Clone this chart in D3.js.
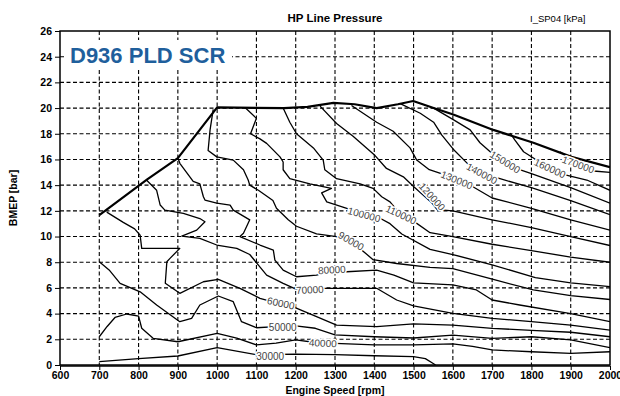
<!DOCTYPE html>
<html lang="en">
<head>
<meta charset="utf-8">
<script src="https://cdn.jsdelivr.net/npm/d3@7"></script>
<style>
  body { margin: 0; background: #fff; }
  svg text { font-family: "Liberation Sans", Arial, sans-serif; }
</style>
</head>
<body>
<div id="chart"></div>
<script>
// tick values
const rpmTicks = [600, 700, 800, 900, 1000, 1100, 1200, 1300, 1400, 1500, 1600, 1700, 1800, 1900, 2000]
const bmepTicks = [0, 2, 4, 6, 8, 10, 12, 14, 16, 18, 20, 22, 24, 26]

// full load line  [rpm, bmep]
const envelope = [[700,11.67],[822,14.45],[900,16.1],[1000,20.05],[1170,20.0],[1230,20.1],[1296,20.4],[1350,20.3],[1406,20.0],[1460,20.3],[1499,20.55],[1551,20.0],[1601,19.5],[1703,18.3],[1805,17.3],[1902,16.2],[2000,15.4]]

// contour lines of HP line pressure [kPa], points as [rpm, bmep]
const c30000 = [[700,0.26],[800,0.5],[900,0.7],[1000,1.35],[1100,0.8],[1200,0.85],[1300,0.8],[1400,0.72],[1500,0.65],[1530,0.5],[1548,0.15],[1556,0]]
const c40000 = [[700,2.2],[720,3.0],[740,3.7],[770,3.97],[800,3.8],[808,2.86],[837,2.08],[900,1.81],[1000,2.47],[1050,2.1],[1100,1.56],[1150,1.7],[1200,1.95],[1250,1.75],[1300,1.69],[1400,1.56],[1500,1.56],[1600,1.65],[1650,1.45],[1700,1.17],[1800,1.03],[1900,0.9],[2000,1.03]]
const c50000 = [[700,8.04],[725,7.4],[753,6.36],[804,5.7],[846,4.67],[905,3.37],[935,3.63],[956,4.67],[1003,5.37],[1041,4.93],[1062,3.37],[1100,2.9],[1150,2.98],[1200,3.05],[1250,2.86],[1300,2.35],[1400,2.2],[1500,2.1],[1600,2.33],[1700,2.07],[1800,2.2],[1900,1.95],[2000,1.35]]
const c60000 = [[719,11.9],[761,11.1],[790,10.6],[804,10.1],[808,9.08],[905,9.08],[880,8.3],[872,8.04],[868,6.36],[905,5.58],[965,6.48],[1003,6.67],[1058,5.97],[1109,5.19],[1160,4.75],[1200,4.45],[1253,3.76],[1304,3.11],[1406,2.98],[1500,3.2],[1600,3.11],[1700,2.85],[1800,2.7],[1900,2.55],[2000,2.2]]
const c70000 = [[820,14.4],[846,13.6],[855,12.45],[867,12.06],[914,11.8],[956,11.4],[969,11.15],[948,10.5],[910,10.04],[956,9.86],[999,9.34],[1050,9.08],[1083,8.6],[1126,7.0],[1168,6.36],[1202,5.89],[1235,5.85],[1270,5.97],[1406,5.97],[1457,5.06],[1500,4.6],[1600,4.02],[1700,3.63],[1800,3.37],[1900,3.1],[2000,2.72]]
const c80000 = [[901,16.05],[905,15.7],[939,14.3],[956,14.1],[965,13.1],[969,12.84],[999,12.6],[1033,12.45],[1041,12.06],[1083,11.3],[1067,10.25],[1058,10.0],[1109,9.34],[1143,8.95],[1147,8.17],[1168,7.39],[1202,6.87],[1253,7.0],[1290,7.3],[1330,7.26],[1406,7.39],[1450,7.0],[1500,6.4],[1600,6.23],[1660,5.84],[1700,5.06],[1770,4.67],[1900,4.0],[2000,3.37]]
const c90000 = [[990,19.9],[982,18.3],[977,16.7],[999,16.2],[1041,15.95],[1067,15.2],[1079,14.4],[1083,14.0],[1105,13.6],[1142,12.8],[1151,12.2],[1181,11.3],[1202,10.8],[1253,10.2],[1304,10.0],[1341,9.6],[1370,8.9],[1397,8.2],[1457,7.9],[1542,7.6],[1600,7.5],[1710,6.6],[1805,5.84],[1900,5.4],[2000,5.1]]
const c100000 = [[1071,20.05],[1100,19.2],[1085,18.0],[1109,17.6],[1126,17.25],[1160,16.2],[1168,15.8],[1168,15.2],[1185,14.5],[1236,14.1],[1291,13.75],[1266,13.4],[1279,12.7],[1330,12.2],[1371,11.8],[1410,11.5],[1440,11.0],[1470,10.2],[1542,9.0],[1600,8.6],[1700,7.8],[1810,6.8],[1900,6.4],[2000,6.1]]
const c110000 = [[1168,20.0],[1185,18.9],[1202,18.0],[1245,16.9],[1270,15.95],[1274,15.2],[1304,14.5],[1364,14.1],[1397,13.75],[1419,13.1],[1440,12.7],[1468,11.7],[1500,11.2],[1542,10.3],[1600,10.0],[1700,9.4],[1800,8.9],[1900,8.4],[2000,8.0]]
const c120000 = [[1262,20.15],[1304,18.8],[1346,17.8],[1402,16.3],[1431,15.3],[1474,14.65],[1500,13.9],[1547,12.6],[1560,12.1],[1600,12.0],[1700,11.3],[1800,10.7],[1900,10.0],[2000,9.3]]
const c130000 = [[1342,20.2],[1406,18.9],[1448,18.2],[1491,16.9],[1508,15.95],[1540,15.2],[1580,14.8],[1610,14.4],[1650,13.9],[1700,13.0],[1800,12.2],[1900,11.3],[2000,10.5]]
const c140000 = [[1466,20.35],[1517,19.6],[1551,18.9],[1572,17.9],[1601,16.8],[1640,15.6],[1674,14.9],[1720,14.5],[1800,13.8],[1900,12.8],[2000,11.7]]
const c150000 = [[1551,20.0],[1601,19.1],[1644,18.3],[1669,17.3],[1695,16.6],[1733,15.8],[1770,15.2],[1800,14.9],[1900,13.8],[2000,12.6]]
const c160000 = [[1746,18.05],[1758,17.5],[1780,16.6],[1847,15.3],[1886,14.8],[1941,14.4],[2000,13.6]]
const c170000 = [[1873,16.6],[1919,15.6],[1958,15.1],[2000,15.0]]

const contours = [c30000, c40000, c50000, c60000, c70000, c80000, c90000, c100000, c110000, c120000, c130000, c140000, c150000, c160000, c170000]

// contour labels: [text, rpm, bmep, angle]
const labels = [
  ['30000', 1135, 0.7, 0], ['40000', 1269, 1.7, 3], ['50000', 1167, 2.95, 0],
  ['60000', 1162, 4.8, 12], ['70000', 1236, 5.85, -3], ['80000', 1292, 7.4, -3],
  ['90000', 1341, 9.65, 30], ['100000', 1374, 11.7, 15], ['110000', 1468, 11.7, 25],
  ['120000', 1547, 13.1, 48], ['130000', 1610, 14.4, 22], ['140000', 1674, 14.9, 28],
  ['150000', 1733, 15.8, 32], ['160000', 1847, 15.3, 25], ['170000', 1919, 15.6, 20]
]

let w = 620, h = 396
let padding = { left: 60, right: 10, top: 31, bottom: 31 }

let xScale = d3.scaleLinear().domain([600, 2000]).range([padding.left, w - padding.right])
let yScale = d3.scaleLinear().domain([0, 26]).range([h - padding.bottom, padding.top])

let svg = d3.select('#chart').append('svg')
    .attr('width', w)
    .attr('height', h)

// dashed grid
svg.append('g')
    .selectAll('line')
    .data(rpmTicks.slice(1, -1))
    .join('line')
    .attr('x1', d => xScale(d)).attr('x2', d => xScale(d))
    .attr('y1', yScale(26)).attr('y2', yScale(0))
    .attr('stroke', '#000').attr('stroke-width', 1.1)
    .attr('stroke-dasharray', '4,2.5')
svg.append('g')
    .selectAll('line')
    .data(bmepTicks.slice(1, -1))
    .join('line')
    .attr('x1', xScale(600)).attr('x2', xScale(2000))
    .attr('y1', d => yScale(d)).attr('y2', d => yScale(d))
    .attr('stroke', '#000').attr('stroke-width', 1.1)
    .attr('stroke-dasharray', '4,2.5')

svg.append('clipPath').attr('id', 'plot-area')
    .append('rect')
    .attr('x', xScale(600)).attr('y', yScale(26))
    .attr('width', xScale(2000) - xScale(600))
    .attr('height', yScale(0) - yScale(26))

let line = d3.line()
    .x(d => xScale(d[0]))
    .y(d => yScale(d[1]))

let plot = svg.append('g').attr('clip-path', 'url(#plot-area)')
plot.selectAll('path.contour')
    .data(contours)
    .join('path')
    .attr('class', 'contour')
    .attr('d', line)
    .attr('fill', 'none')
    .attr('stroke', '#000')
    .attr('stroke-width', 1.3)
    .attr('stroke-linejoin', 'round')

plot.append('path')
    .datum(envelope)
    .attr('d', line)
    .attr('fill', 'none')
    .attr('stroke', '#000')
    .attr('stroke-width', 2.2)
    .attr('stroke-linejoin', 'round')

// contour labels with white halo to break the lines
svg.append('g')
    .selectAll('text')
    .data(labels)
    .join('text')
    .attr('transform', d => 'translate(' + xScale(d[1]) + ',' + yScale(d[2]) + ') rotate(' + d[3] + ')')
    .attr('text-anchor', 'middle')
    .attr('dy', '0.35em')
    .attr('font-size', 10)
    .attr('fill', '#444')
    .attr('stroke', '#fff')
    .attr('stroke-width', 3)
    .attr('paint-order', 'stroke')
    .text(d => d[0])

// frame
svg.append('rect')
    .attr('x', xScale(600)).attr('y', yScale(26))
    .attr('width', xScale(2000) - xScale(600))
    .attr('height', yScale(0) - yScale(26))
    .attr('fill', 'none').attr('stroke', '#000').attr('stroke-width', 1.5)
svg.append('line')
    .attr('x1', xScale(600)).attr('x2', xScale(2000))
    .attr('y1', yScale(0) + 1).attr('y2', yScale(0) + 1)
    .attr('stroke', '#000').attr('stroke-width', 1.5)

// axes
let xAxis = d3.axisBottom(xScale).tickValues(rpmTicks).tickFormat(d3.format('d')).tickSize(4).tickPadding(2)
let yAxis = d3.axisLeft(yScale).tickValues(bmepTicks).tickSize(5).tickPadding(3)
svg.append('g')
    .attr('class', 'x-axis')
    .attr('transform', 'translate(0,' + (yScale(0) + 1) + ')')
    .call(xAxis)
svg.append('g')
    .attr('class', 'y-axis')
    .attr('transform', 'translate(' + xScale(600) + ',0)')
    .call(yAxis)
svg.selectAll('.x-axis .domain, .y-axis .domain').remove()
svg.selectAll('.x-axis text, .y-axis text')
    .attr('font-family', '"Liberation Sans", Arial, sans-serif')
    .attr('font-size', 10.5)
    .attr('font-weight', 'bold')
    .attr('fill', '#000')
svg.selectAll('.x-axis line, .y-axis line').attr('stroke', '#000')

// titles
svg.append('text')
    .attr('x', 335).attr('y', 22)
    .attr('text-anchor', 'middle')
    .attr('font-size', 11.5).attr('font-weight', 'bold')
    .text('HP Line Pressure')
svg.append('text')
    .attr('x', 530).attr('y', 22)
    .attr('font-size', 9.5)
    .text('I_SP04 [kPa]')

// engine name on a white box over the grid
svg.append('rect')
    .attr('x', 64).attr('y', 40)
    .attr('width', 168).attr('height', 29)
    .attr('fill', '#fff')
svg.append('text')
    .attr('x', 70).attr('y', 63)
    .attr('font-size', 22).attr('font-weight', 'bold')
    .attr('fill', '#1f5f9c')
    .text('D936 PLD SCR')

svg.append('text')
    .attr('x', 335).attr('y', 394)
    .attr('text-anchor', 'middle')
    .attr('font-size', 10.5).attr('font-weight', 'bold')
    .text('Engine Speed [rpm]')
svg.append('text')
    .attr('transform', 'translate(17,' + yScale(13) + ') rotate(-90)')
    .attr('text-anchor', 'middle')
    .attr('font-size', 10.5).attr('font-weight', 'bold')
    .text('BMEP [bar]')
</script>
</body>
</html>
